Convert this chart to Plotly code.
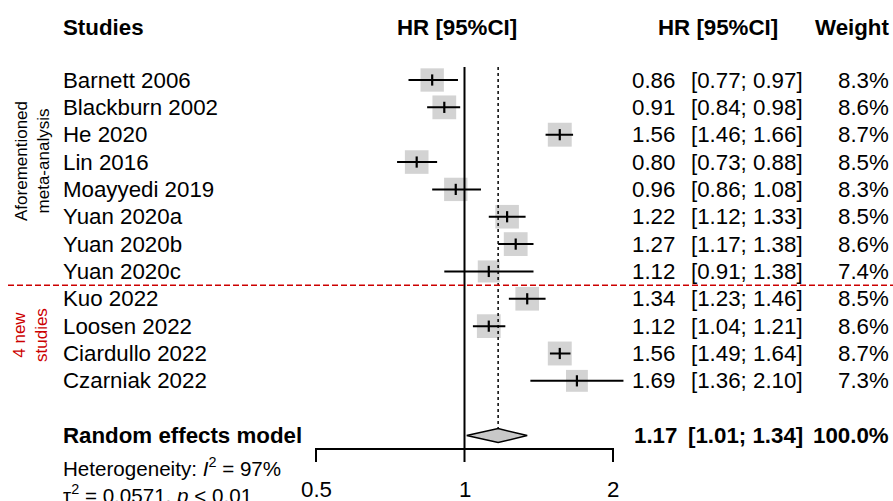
import math
import plotly.graph_objects as go

# ---------------- data ----------------
studies = ["Barnett 2006", "Blackburn 2002", "He 2020", "Lin 2016", "Moayyedi 2019",
           "Yuan 2020a", "Yuan 2020b", "Yuan 2020c", "Kuo 2022", "Loosen 2022",
           "Ciardullo 2022", "Czarniak 2022"]
hr = [0.86, 0.91, 1.56, 0.80, 0.96, 1.22, 1.27, 1.12, 1.34, 1.12, 1.56, 1.69]
ci_low = [0.77, 0.84, 1.46, 0.73, 0.86, 1.12, 1.17, 0.91, 1.23, 1.04, 1.49, 1.36]
ci_high = [0.97, 0.98, 1.66, 0.88, 1.08, 1.33, 1.38, 1.38, 1.46, 1.21, 1.64, 2.10]
weight = [8.3, 8.6, 8.7, 8.5, 8.3, 8.5, 8.6, 7.4, 8.5, 8.6, 8.7, 7.3]
pooled_hr, pooled_low, pooled_high, pooled_weight = 1.17, 1.01, 1.34, 100.0
tick_vals = [0.5, 1, 2]
tick_text = ["0.5", "1", "2"]
n_old = 8  # first 8 studies: aforementioned meta-analysis

# ---------------- layout geometry ----------------
W, H = 893, 501
ROW0_PX, ROW_PX = 80, 27.35
PX_AT_1, PX_PER_LOG2 = 464.5, 148.5
X_LO, X_HI = 0.4, 2.4
FONT = "Liberation Sans, Arial, sans-serif"
FS = 22.3


def row_of(px):
    return (px - ROW0_PX) / ROW_PX


def xpx(v):
    return PX_AT_1 + PX_PER_LOG2 * math.log2(v)


rows = list(range(len(studies)))
pooled_row = len(studies) + 1

fig = go.Figure()

# squares (weight-proportional)
fig.add_trace(go.Scatter(
    x=hr, y=rows, mode="markers",
    marker=dict(symbol="square", size=[8.1 * math.sqrt(w) for w in weight],
                color="#c0c0c0", line=dict(width=0)),
    hoverinfo="skip", showlegend=False, cliponaxis=False))

# CI lines
cx, cy = [], []
for r, lo, hi in zip(rows, ci_low, ci_high):
    cx += [lo, hi, None]
    cy += [r, r, None]
fig.add_trace(go.Scatter(x=cx, y=cy, mode="lines", line=dict(color="black", width=2),
                         hoverinfo="skip", showlegend=False))

# point estimate ticks
fig.add_trace(go.Scatter(
    x=hr, y=rows, mode="markers",
    marker=dict(symbol="line-ns", size=8, line=dict(color="black", width=2.2)),
    hoverinfo="skip", showlegend=False, cliponaxis=False))

# reference line at 1 (solid)
fig.add_trace(go.Scatter(x=[1, 1], y=[row_of(67), row_of(462)], mode="lines",
                         line=dict(color="black", width=2), hoverinfo="skip", showlegend=False))
# pooled estimate line (dotted)
fig.add_trace(go.Scatter(x=[pooled_hr, pooled_hr], y=[row_of(67), row_of(428)], mode="lines",
                         line=dict(color="black", width=1.5, dash="dot"),
                         hoverinfo="skip", showlegend=False))

# diamond
dh = 7 / ROW_PX
fig.add_trace(go.Scatter(
    x=[pooled_low, pooled_hr, pooled_high, pooled_hr, pooled_low],
    y=[pooled_row, pooled_row - dh, pooled_row, pooled_row + dh, pooled_row],
    mode="lines", fill="toself", fillcolor="#c8c8c8",
    line=dict(color="black", width=1.5), hoverinfo="skip", showlegend=False))

# axis bracket
ya, yt = row_of(449), row_of(462)
fig.add_trace(go.Scatter(
    x=[tick_vals[0], tick_vals[0], tick_vals[-1], tick_vals[-1]],
    y=[yt, ya, ya, yt], mode="lines", line=dict(color="black", width=2),
    hoverinfo="skip", showlegend=False))

ann = []


def text(t, x_px, row, anchor="left", bold=False, size=FS, color="black", angle=0):
    ann.append(dict(text=("<b>%s</b>" % t) if bold else t, xref="paper", x=x_px / W,
                    yref="y", y=row, xanchor=anchor, yanchor="middle", showarrow=False,
                    font=dict(family=FONT, size=size, color=color), textangle=angle,
                    borderpad=0))


# headers
hdr = row_of(27)
text("Studies", 62, hdr, "left", True)
text("HR [95%CI]", 457, hdr, "center", True)
text("HR [95%CI]", 718, hdr, "center", True)
text("Weight", 890, hdr, "right", True)

for r, s, h, lo, hi, w in zip(rows, studies, hr, ci_low, ci_high, weight):
    text(s, 62, r)
    text("%.2f" % h, 676, r, "right")
    text("[%.2f; %.2f]" % (lo, hi), 804, r, "right")
    text("%.1f%%" % w, 890, r, "right")

text("Random effects model", 62, pooled_row, "left", True)
text("%.2f" % pooled_hr, 678, pooled_row, "right", True)
text("[%.2f; %.2f]" % (pooled_low, pooled_high), 804, pooled_row, "right", True)
text("%.1f%%" % pooled_weight, 890, pooled_row, "right", True)

text("Heterogeneity: <i>I</i><sup>2</sup> = 97%", 62, row_of(467), "left", size=20.6)
text("τ<sup>2</sup> = 0.0571, <i>p</i> &lt; 0.01", 62, row_of(494), "left", size=20.6)

# tick labels
for v, t in zip(tick_vals, tick_text):
    ann.append(dict(text=t, xref="x", x=math.log10(v), yref="y", y=row_of(489),
                    xanchor="center", yanchor="middle", showarrow=False,
                    font=dict(family=FONT, size=FS, color="black")))

# group labels
text("Aforementioned<br>meta-analysis", 32, row_of(161), "center", size=17, angle=-90)
text("4 new<br>studies", 30, row_of(335), "center", size=17, color="#cc0000", angle=-90)

shapes = [dict(type="line", xref="paper", x0=8 / W, x1=1, yref="y",
               y0=n_old - 0.5, y1=n_old - 0.5,
               line=dict(color="#cc0000", width=1.5, dash="6px,3px"))]

fig.update_layout(
    width=W, height=H, margin=dict(l=0, r=0, t=0, b=0),
    paper_bgcolor="white", plot_bgcolor="white",
    annotations=ann, shapes=shapes,
    xaxis=dict(type="log", range=[math.log10(X_LO), math.log10(X_HI)],
               domain=[xpx(X_LO) / W, xpx(X_HI) / W],
               visible=False, fixedrange=True),
    yaxis=dict(range=[(H - ROW0_PX) / ROW_PX, -ROW0_PX / ROW_PX], domain=[0, 1],
               visible=False, fixedrange=True),
)

fig.write_html("out.html", config={"displayModeBar": False, "staticPlot": True},
               post_script="document.body.style.margin='0';document.body.style.overflow='hidden';")
